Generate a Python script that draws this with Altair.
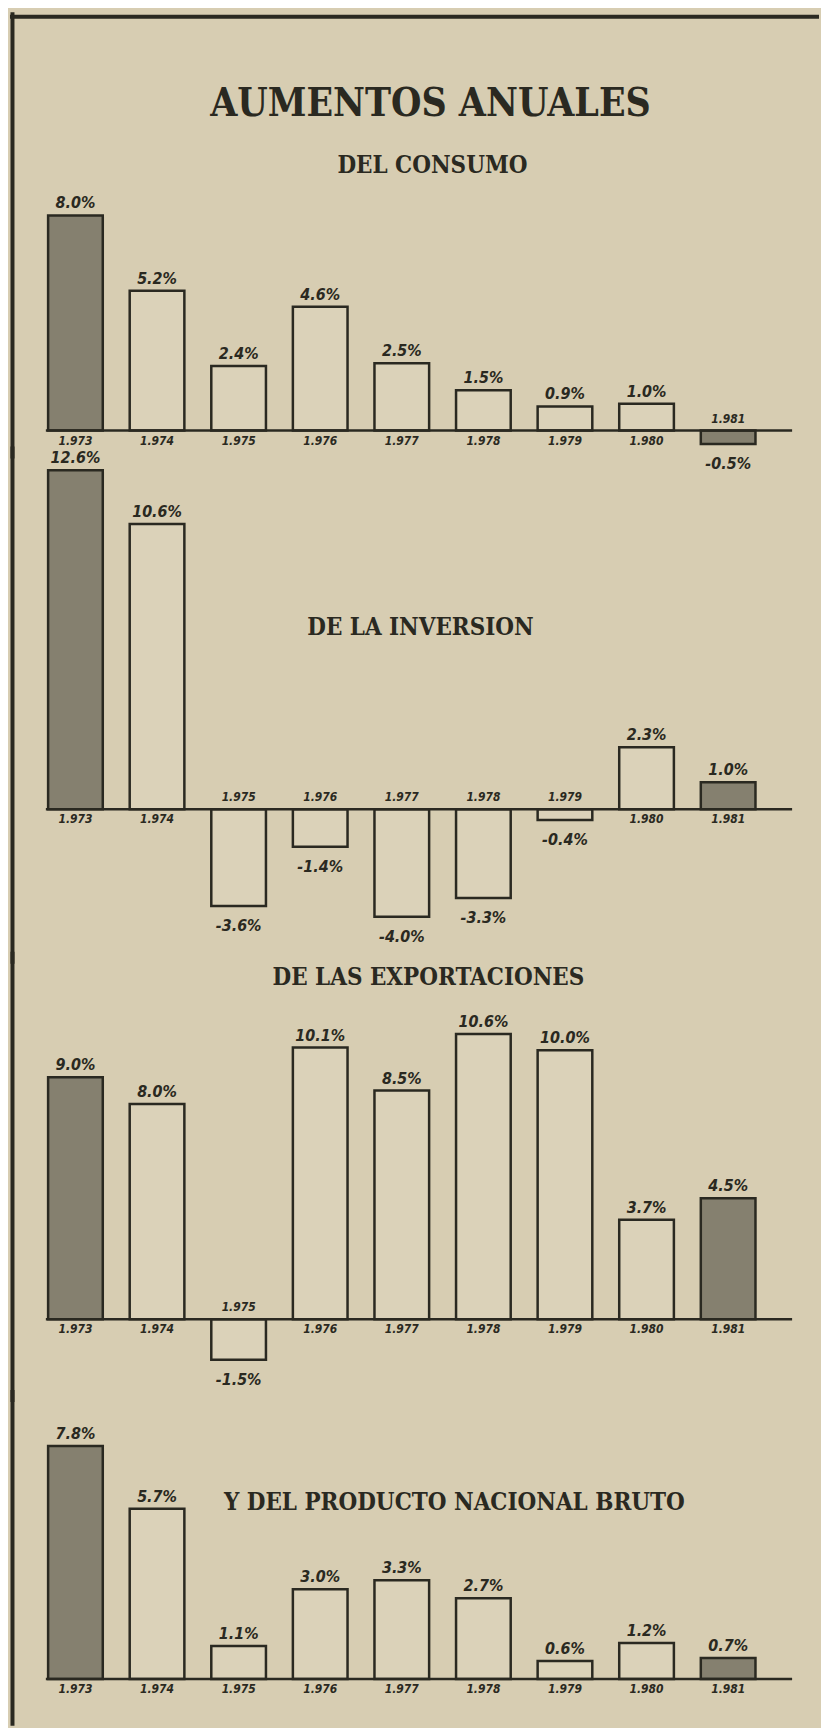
import altair as alt
import pandas as pd

# ---- data ----
years = ["1.973", "1.974", "1.975", "1.976", "1.977", "1.978", "1.979", "1.980", "1.981"]
consumo = [8.0, 5.2, 2.4, 4.6, 2.5, 1.5, 0.9, 1.0, -0.5]
inversion = [12.6, 10.6, -3.6, -1.4, -4.0, -3.3, -0.4, 2.3, 1.0]
exportaciones = [9.0, 8.0, -1.5, 10.1, 8.5, 10.6, 10.0, 3.7, 4.5]
pnb = [7.8, 5.7, 1.1, 3.0, 3.3, 2.7, 0.6, 1.2, 0.7]
hatched_years = ["1.973", "1.981"]

main_title = "AUMENTOS ANUALES"
panel_titles = ["DEL CONSUMO", "DE LA INVERSION", "DE LAS EXPORTACIONES",
                "Y DEL PRODUCTO NACIONAL BRUTO"]

# ---- style ----
PAPER = "#d7cdb2"
PLAIN = "#dbd2b9"
HATCH = "#85806f"
INK = "#2a2921"
HAND = "DejaVu Sans Condensed, DejaVu Sans, sans-serif"
SLAB = "DejaVu Serif Condensed, DejaVu Serif, serif"
W = 812


def panel(values, height, domain, titles, top_rule=False):
    df = pd.DataFrame({"year": years, "v": values})
    base = alt.Chart(df).transform_calculate(
        label="replace(format(datum.v, '.1f'), '\u2212', '-') + '%'"
    )
    x = alt.X("year:N", sort=years, axis=None,
              scale=alt.Scale(paddingInner=0.33, paddingOuter=0.623, align=0.375))
    y = alt.Y("v:Q", axis=None,
              scale=alt.Scale(domain=domain, nice=False, zero=False))

    bars = base.mark_bar(stroke=INK, strokeWidth=2.5).encode(
        x=x, y=y, y2=alt.datum(0),
        fill=alt.condition(
            alt.FieldOneOfPredicate(field="year", oneOf=hatched_years),
            alt.value(HATCH), alt.value(PLAIN)),
    )
    pos_lab = base.transform_filter("datum.v >= 0").mark_text(
        baseline="bottom", dy=-4, font=HAND, fontSize=16, fontStyle="italic",
        fontWeight="bold", color=INK
    ).encode(x=x, y=y, text="label:N")
    neg_lab = base.transform_filter("datum.v < 0").mark_text(
        baseline="top", dy=12, font=HAND, fontSize=16, fontStyle="italic",
        fontWeight="bold", color=INK
    ).encode(x=x, y=y, text="label:N")
    yr_below = base.transform_filter("datum.v >= 0").mark_text(
        baseline="top", dy=5, font=HAND, fontSize=12, fontStyle="italic",
        fontWeight="bold", color=INK
    ).encode(x=x, y=alt.datum(0), text="year:N")
    yr_above = base.transform_filter("datum.v < 0").mark_text(
        baseline="bottom", dy=-5, font=HAND, fontSize=12, fontStyle="italic",
        fontWeight="bold", color=INK
    ).encode(x=x, y=alt.datum(0), text="year:N")

    zero_df = pd.DataFrame({"z": [0]})
    baseline = alt.Chart(zero_df).mark_rule(strokeWidth=2.5, color=INK).encode(
        y=alt.Y("z:Q", scale=alt.Scale(domain=domain, nice=False, zero=False), axis=None),
        x=alt.value(36), x2=alt.value(785))
    left = alt.Chart(zero_df).mark_rule(strokeWidth=4, color=INK, strokeCap="square").encode(
        x=alt.value(2.5), y=alt.value(0 if top_rule else -4), y2=alt.value(height + 4))

    layers = [bars, baseline, left, pos_lab, neg_lab, yr_below, yr_above]
    if top_rule:
        layers.append(alt.Chart(zero_df).mark_rule(strokeWidth=4, color=INK).encode(
            y=alt.value(2.5), x=alt.value(0), x2=alt.value(W)))
    for text, cx, cy, size in titles:
        layers.append(alt.Chart(pd.DataFrame({"t": [text]})).mark_text(
            font=SLAB, fontWeight="bold", fontSize=size, color=INK,
            align="center", baseline="middle"
        ).encode(text="t:N", x=alt.value(cx), y=alt.value(cy)))
    return alt.layer(*layers).properties(width=W, height=height)


p1 = panel(consumo, 440, [-0.815, 15.48],
           [(main_title, 422, 90, 39), (panel_titles[0], 424, 152, 24)], top_rule=True)
p2 = panel(inversion, 507, [-5.52, 13.26], [(panel_titles[1], 412, 176, 24)])
p3 = panel(exportaciones, 440, [-2.85, 13.44], [(panel_titles[2], 420, 20, 24)])
p4 = panel(pnb, 325, [-1.37, 9.47], [(panel_titles[3], 446, 107, 24)])

chart = alt.vconcat(p1, p2, p3, p4, spacing=0).properties(
    padding=0, bounds="flush", background=PAPER
).configure_view(stroke=None)

chart.save("out.html", embed_options={"renderer": "svg", "actions": False})
